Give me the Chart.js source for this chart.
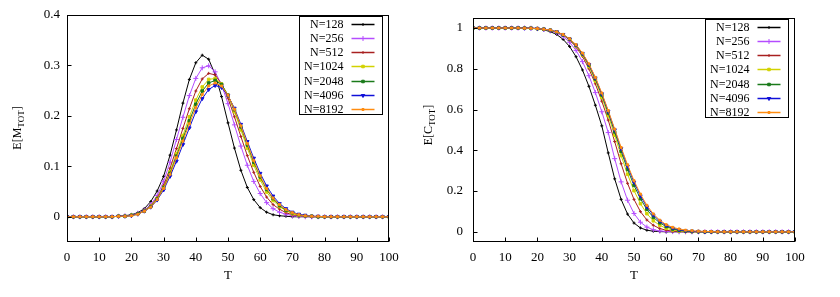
<!DOCTYPE html>
<html>
<head>
<meta charset="utf-8">
<script src="https://cdn.jsdelivr.net/npm/chart.js@4.4.0/dist/chart.umd.min.js"></script>
<style>
    html, body { margin: 0; padding: 0; background: #fff; }
    #wrap { position: relative; width: 840px; height: 297px; }
    .panel { position: absolute; top: 0; width: 420px; height: 297px; }
</style>
</head>
<body>
<div id="wrap">
    <div class="panel" style="left:0"><canvas id="magChart" width="420" height="297"></canvas></div>
    <div class="panel" style="left:420px"><canvas id="clusterChart" width="420" height="297"></canvas></div>
</div>
<script>
// Temperatures (x values)
const temps = [0, 2, 4, 6, 8, 10, 12, 14, 16, 18, 20, 22, 24, 26, 28, 30, 32, 34, 36, 38, 40,
    42, 44, 46, 48, 50, 52, 54, 56, 58, 60, 62, 64, 66, 68, 70, 72, 74, 76, 78, 80,
    82, 84, 86, 88, 90, 92, 94, 96, 98, 100];

// E[M_TOT] per system size
const mN128 = [0, 0, 0, 0, 0, 0, 0, 0, .001, .002, .004, .008, .016, .030, .051, .080, .122, .172, .225, .272, .305,
    .320, .312, .282, .238, .186, .136, .092, .058, .034, .018, .009, .004, .002, .001, 0, 0, 0, 0, 0, 0,
    0, 0, 0, 0, 0, 0, 0, 0, 0, 0];
const mN256 = [0, 0, 0, 0, 0, 0, 0, 0, .001, .002, .003, .007, .013, .024, .042, .070, .108, .153, .197, .240, .274,
    .295, .299, .287, .261, .224, .182, .140, .102, .070, .046, .028, .016, .009, .005, .002, .001, 0, 0, 0, 0,
    0, 0, 0, 0, 0, 0, 0, 0, 0, 0];
const mN512 = [0, 0, 0, 0, 0, 0, 0, 0, .001, .001, .003, .006, .012, .022, .038, .062, .096, .135, .175, .214, .249,
    .273, .284, .281, .263, .235, .198, .159, .121, .088, .060, .039, .024, .015, .008, .004, .002, .001, 0, 0, 0,
    0, 0, 0, 0, 0, 0, 0, 0, 0, 0];
const mN1024 = [0, 0, 0, 0, 0, 0, 0, 0, .001, .001, .003, .006, .012, .021, .036, .058, .089, .125, .161, .198, .231,
    .257, .272, .274, .263, .240, .208, .172, .136, .102, .073, .049, .032, .020, .012, .006, .003, .002, .001, 0, 0,
    0, 0, 0, 0, 0, 0, 0, 0, 0, 0];
const mN2048 = [0, 0, 0, 0, 0, 0, 0, 0, .001, .001, .003, .006, .011, .020, .035, .057, .086, .120, .155, .190, .223,
    .249, .265, .270, .262, .241, .212, .178, .142, .108, .079, .054, .036, .022, .013, .008, .004, .002, .001, 0, 0,
    0, 0, 0, 0, 0, 0, 0, 0, 0, 0];
const mN4096 = [0, 0, 0, 0, 0, 0, 0, 0, .001, .001, .002, .005, .011, .019, .033, .053, .080, .110, .143, .176, .208,
    .234, .252, .260, .256, .240, .215, .183, .149, .116, .086, .061, .041, .026, .016, .009, .005, .003, .001, .001, 0,
    0, 0, 0, 0, 0, 0, 0, 0, 0, 0];
const mN8192 = [0, 0, 0, 0, 0, 0, 0, 0, .001, .001, .002, .005, .011, .019, .034, .056, .084, .117, .150, .184, .216,
    .242, .259, .265, .259, .241, .213, .180, .145, .111, .081, .056, .037, .024, .014, .008, .004, .002, .001, .001, 0,
    0, 0, 0, 0, 0, 0, 0, 0, 0, 0];

// E[C_TOT] per system size
const cN128 = [1, 1, 1, 1, 1, 1, 1, 1, 1, .998, .996, .991, .982, .968, .944, .909, .859, .794, .714, .621, .520,
    .387, .260, .159, .087, .043, .019, .008, .003, .001, 0, 0, 0, 0, 0, 0, 0, 0, 0, 0, 0,
    0, 0, 0, 0, 0, 0, 0, 0, 0, 0];
const cN256 = [1, 1, 1, 1, 1, 1, 1, 1, 1, .999, .997, .993, .987, .976, .958, .930, .890, .835, .766, .683, .589,
    .487, .359, .245, .155, .090, .047, .023, .010, .004, .002, .001, 0, 0, 0, 0, 0, 0, 0, 0, 0,
    0, 0, 0, 0, 0, 0, 0, 0, 0, 0];
const cN512 = [1, 1, 1, 1, 1, 1, 1, 1, .999, .999, .997, .994, .989, .980, .965, .941, .907, .861, .800, .726, .641,
    .548, .443, .334, .238, .159, .099, .058, .032, .016, .008, .003, .001, 0, 0, 0, 0, 0, 0, 0, 0,
    0, 0, 0, 0, 0, 0, 0, 0, 0, 0];
const cN1024 = [1, 1, 1, 1, 1, 1, 1, 1, .999, .999, .997, .994, .989, .980, .966, .944, .912, .868, .811, .741, .660,
    .570, .474, .374, .282, .202, .138, .089, .054, .032, .017, .009, .004, .002, .001, 0, 0, 0, 0, 0, 0,
    0, 0, 0, 0, 0, 0, 0, 0, 0, 0];
const cN2048 = [1, 1, 1, 1, 1, 1, 1, 1, .999, .999, .997, .994, .989, .981, .967, .946, .915, .873, .818, .750, .671,
    .583, .490, .395, .306, .228, .162, .110, .071, .044, .026, .014, .007, .004, .002, .001, 0, 0, 0, 0, 0,
    0, 0, 0, 0, 0, 0, 0, 0, 0, 0];
const cN4096 = [1, 1, 1, 1, 1, 1, 1, 1, .999, .999, .997, .994, .989, .981, .967, .946, .916, .875, .821, .755, .677,
    .591, .500, .408, .321, .243, .176, .122, .082, .052, .031, .018, .010, .005, .003, .001, 0, 0, 0, 0, 0,
    0, 0, 0, 0, 0, 0, 0, 0, 0, 0];
const cN8192 = [1, 1, 1, 1, 1, 1, 1, 1, .999, .999, .997, .994, .990, .981, .968, .947, .918, .877, .824, .758, .681,
    .595, .504, .414, .329, .251, .185, .130, .088, .057, .035, .022, .014, .008, .005, .003, .002, .001, 0, 0, 0,
    0, 0, 0, 0, 0, 0, 0, 0, 0, 0];

// Tick labels
const xTicks = [0, 10, 20, 30, 40, 50, 60, 70, 80, 90, 100];
const yTicksM = [0, 0.1, 0.2, 0.3, 0.4];
const yTicksC = [0, 0.2, 0.4, 0.6, 0.8, 1];

// Series styling
const seriesLabels = ['N=128', 'N=256', 'N=512', 'N=1024', 'N=2048', 'N=4096', 'N=8192'];
const seriesColors = ['#000000', '#b44cff', '#a82020', '#d2d200', '#1a7a1a', '#1010d8', '#ff8c10'];
const seriesPoints = ['cross', 'cross', 'cross', 'rect', 'rect', 'triangle', 'rect'];
const pointSizes = [1.5, 2.5, 1.5, 1.8, 1.8, 2, 1.4];

const SERIF = '"Liberation Serif", "DejaVu Serif", serif';

function buildDatasets(valueLists) {
    return valueLists.map((vals, i) => ({
        label: seriesLabels[i],
        data: temps.map((t, k) => ({ x: t, y: vals[k] })),
        borderColor: seriesColors[i],
        backgroundColor: seriesColors[i],
        borderWidth: 1,
        pointStyle: seriesPoints[i],
        pointRadius: pointSizes[i],
        pointBorderWidth: 1,
        pointRotation: i === 5 ? 180 : 0,
        tension: 0,
        // last series drawn on top, like gnuplot
        order: valueLists.length - 1 - i
    }));
}

// Frame, inward ticks, gnuplot style key and axis titles
const framePlugin = {
    id: 'frame',
    afterDatasetsDraw(chart) {
        const { ctx, chartArea: a, scales } = chart;
        const left = Math.round(a.left) + 0.5;
        const top = Math.round(a.top) + 0.5;
        const right = Math.round(a.right) - 0.5;
        const bottom = Math.round(a.bottom) - 0.5;
        ctx.save();
        ctx.strokeStyle = '#000';
        ctx.lineWidth = 1;
        ctx.strokeRect(left, top, right - left, bottom - top);

        ctx.beginPath();
        scales.y.ticks.forEach(t => {
            const y = Math.round(scales.y.getPixelForValue(t.value)) + 0.5;
            ctx.moveTo(left, y);
            ctx.lineTo(left + 4, y);
        });
        scales.x.ticks.forEach(t => {
            const x = Math.round(scales.x.getPixelForValue(t.value)) + 0.5;
            ctx.moveTo(x, bottom);
            ctx.lineTo(x, bottom - 4);
        });
        ctx.stroke();

        // key box
        const boxL = Math.round(a.right) - 90 + 0.5;
        const boxR = Math.round(a.right) - 7 + 0.5;
        const boxT = top + 1;
        const boxB = top + 99;
        ctx.fillStyle = '#fff';
        ctx.fillRect(boxL, boxT, boxR - boxL, boxB - boxT);
        ctx.strokeRect(boxL, boxT, boxR - boxL, boxB - boxT);
        ctx.font = '12px ' + SERIF;
        ctx.textAlign = 'right';
        ctx.textBaseline = 'middle';
        chart.data.datasets.forEach((ds, i) => {
            const y = Math.round(a.top + 8.7 + i * 14.27) + 0.5;
            ctx.fillStyle = '#000';
            ctx.fillText(ds.label, boxL + 44, y + 0.5);
            ctx.strokeStyle = ds.borderColor;
            ctx.fillStyle = ds.backgroundColor;
            ctx.lineWidth = 1.5;
            ctx.beginPath();
            ctx.moveTo(boxL + 52, y);
            ctx.lineTo(boxL + 75, y);
            ctx.stroke();
            ctx.lineWidth = 1;
            Chart.helpers.drawPoint(ctx, {
                pointStyle: ds.pointStyle,
                radius: ds.pointRadius,
                rotation: ds.pointRotation,
                borderWidth: 1
            }, boxL + 63.5, y);
        });
        ctx.restore();
    },
    afterDraw(chart, args, opts) {
        const { ctx, chartArea: a } = chart;
        ctx.save();
        ctx.fillStyle = '#000';
        // x title
        ctx.font = '13px ' + SERIF;
        ctx.textAlign = 'center';
        ctx.textBaseline = 'middle';
        ctx.fillText('T', (a.left + a.right) / 2, 276);
        // rotated y title with subscript
        ctx.translate(opts.yTitleX, opts.yTitleY);
        ctx.rotate(-Math.PI / 2);
        ctx.textBaseline = 'alphabetic';
        ctx.textAlign = 'left';
        ctx.font = '12px ' + SERIF;
        const mainW = ctx.measureText(opts.yMain).width;
        const closeW = ctx.measureText(']').width;
        ctx.font = '9px ' + SERIF;
        const subW = ctx.measureText(opts.ySub).width;
        let x = -(mainW + subW + closeW) / 2;
        ctx.font = '12px ' + SERIF;
        ctx.fillText(opts.yMain, x, 4);
        x += mainW;
        ctx.font = '9px ' + SERIF;
        ctx.fillText(opts.ySub, x, 7);
        x += subW;
        ctx.font = '12px ' + SERIF;
        ctx.fillText(']', x, 4);
        ctx.restore();
    }
};

function makeChart(canvasId, valueLists, yMin, yMax, yTicks, cfg) {
    const ctx = document.getElementById(canvasId).getContext('2d');
    return new Chart(ctx, {
        type: 'line',
        data: { datasets: buildDatasets(valueLists) },
        options: {
            responsive: false,
            animation: false,
            devicePixelRatio: 1,
            layout: { padding: { left: 0, right: cfg.rightPad, top: 14, bottom: 0 } },
            scales: {
                x: {
                    type: 'linear',
                    min: 0,
                    max: 100,
                    grid: { display: false, drawTicks: false },
                    border: { display: false },
                    afterBuildTicks: scale => { scale.ticks = xTicks.map(v => ({ value: v })); },
                    afterFit: scale => { scale.height = 55; },
                    ticks: {
                        padding: 8,
                        maxRotation: 0,
                        color: '#000',
                        font: { family: SERIF, size: 13 }
                    }
                },
                y: {
                    min: yMin,
                    max: yMax,
                    grid: { display: false, drawTicks: false },
                    border: { display: false },
                    afterBuildTicks: scale => { scale.ticks = yTicks.map(v => ({ value: v })); },
                    afterFit: scale => { scale.width = cfg.yWidth; },
                    ticks: {
                        padding: cfg.yPad,
                        color: '#000',
                        font: { family: SERIF, size: 13 },
                        callback: v => String(Number(v.toFixed(2)))
                    }
                }
            },
            plugins: {
                legend: { display: false },
                tooltip: { enabled: false },
                frame: { yMain: cfg.yMain, ySub: 'TOT', yTitleX: cfg.yTitleX, yTitleY: cfg.yTitleY }
            }
        },
        plugins: [framePlugin]
    });
}

document.addEventListener('DOMContentLoaded', () => {
    makeChart('magChart', [mN128, mN256, mN512, mN1024, mN2048, mN4096, mN8192], -0.05, 0.4, yTicksM,
        { rightPad: 31, yWidth: 67, yPad: 7, yMain: 'E[M', yTitleX: 17, yTitleY: 128 });
    makeChart('clusterChart', [cN128, cN256, cN512, cN1024, cN2048, cN4096, cN8192], -0.05, 1.05, yTicksC,
        { rightPad: 45, yWidth: 53, yPad: 10, yMain: 'E[C', yTitleX: 8, yTitleY: 125 });
});
</script>
</body>
</html>
